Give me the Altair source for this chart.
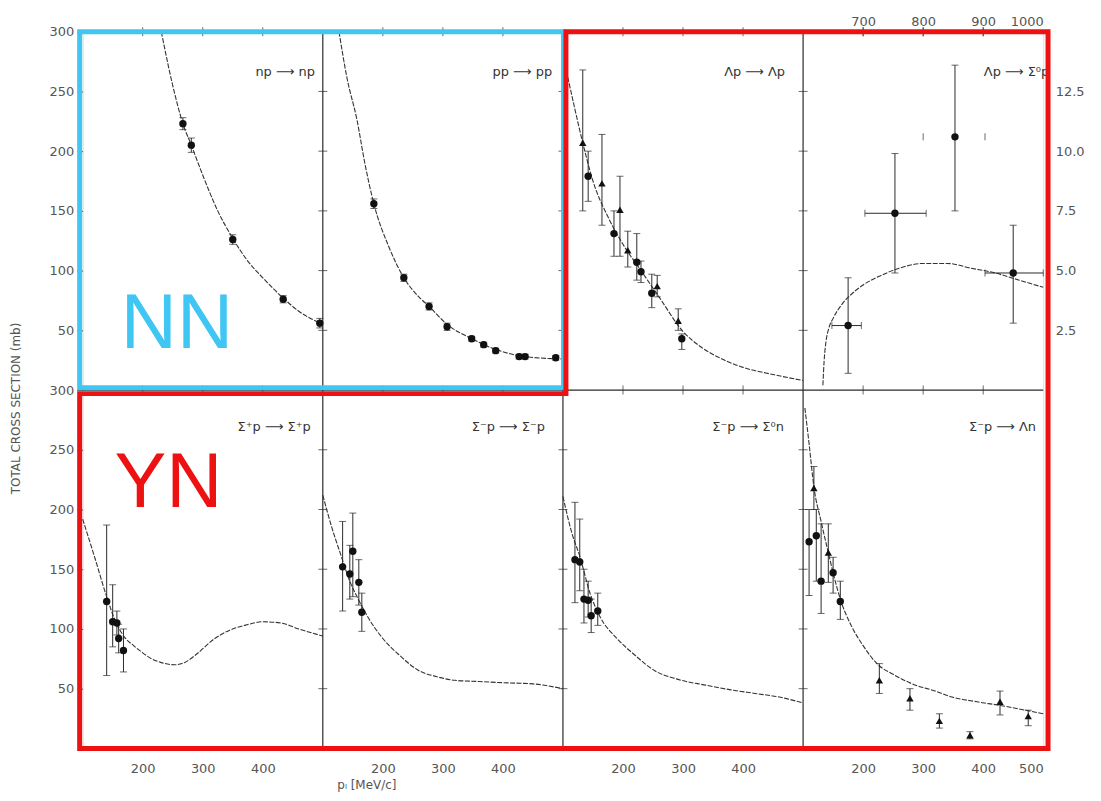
import altair as alt
import pandas as pd

# ---------------- data (p_lab in MeV/c, total cross section in mb) ----------------
# top row, panel 1: np -> np
NP_CURVE_X = [231, 250, 267, 281, 300, 325, 350, 375, 400, 434, 460, 500]
NP_CURVE_Y = [300, 255, 223, 205, 180, 150, 127, 108, 94, 77, 66, 55]
NP_X = [267, 281, 350, 434, 495]
NP_Y = [223, 205, 126, 76, 56]
NP_E = [5, 6, 4, 3, 4]

# top row, panel 2: pp -> pp
PP_CURVE_X = [127, 140, 157, 170, 185, 210, 235, 260, 277, 307, 348, 388, 437, 500]
PP_CURVE_Y = [300, 262, 226, 190, 156, 120, 94, 78, 70, 55, 43, 34, 28, 26]
PP_X = [185, 235, 277, 307, 348, 368, 388, 427, 437, 488]
PP_Y = [156, 94, 70, 53, 43, 38, 33, 28, 28, 27]
PP_E = [4, 3, 3, 3, 2, 2, 2, 2, 2, 2]

# top row, panel 3: Lambda p -> Lambda p
LL_CURVE_X = [108, 120, 133, 150, 175, 200, 230, 260, 300, 330, 365, 400, 450, 500]
LL_CURVE_Y = [262, 235, 207, 175, 145, 122, 100, 78, 49, 36, 26, 19, 13, 8]
LL_X = [133, 142, 165, 185, 195, 208, 223, 230, 248, 257, 292, 298]
LL_Y = [207, 179, 173, 131, 151, 117, 107, 99, 81, 87, 58, 43]
LL_LO = [150, 158, 138, 112, 112, 103, 92, 90, 69, 78, 50, 34]
LL_HI = [268, 200, 214, 150, 179, 133, 131, 108, 97, 96, 68, 47]
LL_SHAPE = ["triangle", "circle", "triangle", "circle", "triangle", "triangle",
            "circle", "circle", "circle", "triangle", "triangle", "circle"]

# top row, panel 4: Lambda p -> Sigma0 p (top axis 600-1000 MeV/c, right axis 0-15 mb)
LS_CURVE_X = [633, 635, 638, 643, 650, 665, 680, 700, 730, 760, 800, 840, 880, 920, 960, 1000]
LS_CURVE_Y = [0.2, 1.2, 2.0, 2.6, 3.0, 3.6, 4.0, 4.4, 4.8, 5.1, 5.3, 5.3, 5.1, 4.9, 4.6, 4.3]
LS_X = [675, 753, 853, 950]
LS_Y = [2.7, 7.4, 10.6, 4.9]
LS_YLO = [0.7, 4.9, 7.5, 2.8]
LS_YHI = [4.7, 9.9, 13.6, 6.9]
LS_XLO = [648, 703, 800, 903]
LS_XHI = [697, 805, 903, 1000]
LS_XBAR = [True, True, False, True]

# bottom row, panel 1: Sigma+ p -> Sigma+ p
SPP_CURVE_X = [100, 120, 140, 155, 170, 185, 200, 215, 230, 253, 270, 290, 320, 345, 370, 400, 430, 460, 500]
SPP_CURVE_Y = [192, 160, 127, 106, 93, 86, 80, 75, 72, 70, 72, 79, 92, 99, 103, 106, 105, 100, 94]
SPP_X = [140, 150, 157, 160, 168]
SPP_Y = [123, 106, 105, 92, 82]
SPP_LO = [61, 85, 95, 80, 64]
SPP_HI = [187, 137, 115, 104, 100]

# bottom row, panel 2: Sigma- p -> Sigma- p
SMM_CURVE_X = [100, 115, 130, 145, 160, 175, 200, 230, 257, 290, 320, 360, 400, 450, 500]
SMM_CURVE_Y = [212, 185, 162, 140, 124, 110, 92, 77, 66, 60, 57, 56, 55, 54, 50]
SMM_X = [133, 145, 150, 160, 165]
SMM_Y = [152, 146, 165, 139, 114]
SMM_LO = [115, 125, 127, 120, 98]
SMM_HI = [190, 170, 197, 158, 130]

# bottom row, panel 3: Sigma- p -> Sigma0 n
SMZ_CURVE_X = [100, 115, 128, 145, 162, 190, 220, 253, 290, 337, 380, 420, 460, 500]
SMZ_CURVE_Y = [211, 180, 161, 130, 110, 92, 78, 65, 58, 53, 49, 46, 43, 38]
SMZ_X = [120, 128, 135, 142, 147, 158]
SMZ_Y = [158, 156, 125, 124, 111, 115]
SMZ_LO = [122, 132, 105, 110, 97, 103]
SMZ_HI = [206, 192, 150, 140, 125, 130]

# bottom row, panel 4: Sigma- p -> Lambda n
SML_CURVE_X = [103, 110, 118, 130, 142, 152, 162, 180, 200, 225, 250, 282, 320, 348, 390, 428, 460, 500]
SML_CURVE_Y = [285, 255, 219, 190, 164, 143, 125, 103, 86, 70, 62, 54, 48, 43, 39, 36, 33, 29]
SML_X = [110, 118, 122, 130, 142, 150, 162, 227, 278, 327, 378, 428, 475]
SML_Y = [173, 218, 178, 140, 164, 147, 123, 57, 42, 23, 11, 39, 27]
SML_LO = [128, 200, 140, 113, 139, 130, 108, 46, 32, 17, 8, 28, 19]
SML_HI = [200, 236, 200, 188, 188, 160, 140, 71, 50, 29, 14, 48, 32]
SML_SHAPE = ["circle", "triangle", "circle", "circle", "triangle", "circle", "circle",
             "triangle", "triangle", "triangle", "triangle", "triangle", "triangle"]

REACTIONS = ["np  ⟶  np", "pp  ⟶  pp", "Λp  ⟶  Λp", "Λp ⟶ Σ⁰p",
             "Σ⁺p  ⟶  Σ⁺p", "Σ⁻p  ⟶  Σ⁻p", "Σ⁻p  ⟶  Σ⁰n", "Σ⁻p  ⟶  Λn"]
REACTION_X = [487, 482, 470, 510, 480, 470, 468, 488]
REACTION_Y = [266, 266, 266, 266, 269, 269, 269, 269]

Y_TICKS = [50, 100, 150, 200, 250, 300]
X_TICKS = [200, 300, 400]
TOP_TICKS = [700, 800, 900, 1000]
RIGHT_TICKS = [2.5, 5.0, 7.5, 10.0, 12.5]

CYAN = "#3FC6F2"
RED = "#EE1111"
INK = "#2a2a2a"
GREY = "#555555"


def gx(k, x):
    return k * 400 + (x - 100)


def gy(r, y):
    return (300 if r == 0 else 0) + y


# ---------------- assemble tables ----------------
curve_rows, pt_rows = [], []
std = [
    (0, 0, NP_CURVE_X, NP_CURVE_Y, NP_X, NP_Y, [y - e for y, e in zip(NP_Y, NP_E)], [y + e for y, e in zip(NP_Y, NP_E)], ["circle"] * len(NP_X)),
    (1, 0, PP_CURVE_X, PP_CURVE_Y, PP_X, PP_Y, [y - e for y, e in zip(PP_Y, PP_E)], [y + e for y, e in zip(PP_Y, PP_E)], ["circle"] * len(PP_X)),
    (2, 0, LL_CURVE_X, LL_CURVE_Y, LL_X, LL_Y, LL_LO, LL_HI, LL_SHAPE),
    (0, 1, SPP_CURVE_X, SPP_CURVE_Y, SPP_X, SPP_Y, SPP_LO, SPP_HI, ["circle"] * len(SPP_X)),
    (1, 1, SMM_CURVE_X, SMM_CURVE_Y, SMM_X, SMM_Y, SMM_LO, SMM_HI, ["circle"] * len(SMM_X)),
    (2, 1, SMZ_CURVE_X, SMZ_CURVE_Y, SMZ_X, SMZ_Y, SMZ_LO, SMZ_HI, ["circle"] * len(SMZ_X)),
    (3, 1, SML_CURVE_X, SML_CURVE_Y, SML_X, SML_Y, SML_LO, SML_HI, SML_SHAPE),
]
for k, r, cx, cy, px, py, lo, hi, sh in std:
    pid = f"{k}-{r}"
    for i, (a, b) in enumerate(zip(cx, cy)):
        curve_rows.append({"panel": pid, "i": i, "gx": gx(k, a), "gy": gy(r, b)})
    for a, b, l, h, s in zip(px, py, lo, hi, sh):
        pt_rows.append({"gx": gx(k, a), "gy": gy(r, b), "lo": gy(r, l), "hi": gy(r, h), "shape": s})

# Lambda p -> Sigma0 p panel (own axes)
for i, (a, b) in enumerate(zip(LS_CURVE_X, LS_CURVE_Y)):
    curve_rows.append({"panel": "3-0", "i": i, "gx": 1200 + (a - 600), "gy": 300 + b * 20})
xerr_rows = []
for a, b, l, h, xl, xh, bar in zip(LS_X, LS_Y, LS_YLO, LS_YHI, LS_XLO, LS_XHI, LS_XBAR):
    pt_rows.append({"gx": 1200 + (a - 600), "gy": 300 + b * 20, "lo": 300 + l * 20,
                    "hi": 300 + h * 20, "shape": "circle"})
    xerr_rows.append({"gy": 300 + b * 20, "xlo": 1200 + (xl - 600), "xhi": 1200 + (xh - 600),
                      "bar": bar})

curves = pd.DataFrame(curve_rows)
pts = pd.DataFrame(pt_rows)
xerr = pd.DataFrame(xerr_rows)
caps = pd.concat([pts[["gx", "lo"]].rename(columns={"lo": "gy"}),
                  pts[["gx", "hi"]].rename(columns={"hi": "gy"})])
xcaps = pd.concat([xerr[["gy", "xlo"]].rename(columns={"xlo": "gx"}),
                   xerr[["gy", "xhi"]].rename(columns={"xhi": "gx"})])

labels = pd.DataFrame({
    "text": REACTIONS,
    "gx": [gx(k % 4, x) for k, x in enumerate(REACTION_X)],
    "gy": [gy(k // 4, y) for k, y in enumerate(REACTION_Y)],
})

# frame
dividers = pd.DataFrame({"gx": [400, 800, 1200], "y0": [0, 0, 0], "y1": [600, 600, 600]})
midline = pd.DataFrame({"x0": [0], "x1": [1600], "gy": [300]})
hticks = pd.DataFrame([{"gx": d, "gy": r * 300 + v} for d in [400, 800, 1200]
                       for r in [0, 1] for v in Y_TICKS if v < 300])
vticks = pd.DataFrame([{"gx": gx(k, v), "gy": yy} for k in range(4) for v in X_TICKS
                       for yy in [300, 600]] +
                      [{"gx": 1200 + (v - 600), "gy": 600} for v in TOP_TICKS[:-1]])

# highlight boxes (in data units)
box_rows = []
for i, (a, b) in enumerate([(-5, 600), (801, 600), (801, 302), (-5, 302), (-5, 600)]):
    box_rows.append({"box": "NN", "i": i, "gx": a, "gy": b})
for i, (a, b) in enumerate([(805, 600), (1608, 600), (1608, 0), (-5, 0), (-5, 297),
                            (805, 297), (805, 600)]):
    box_rows.append({"box": "YN", "i": i, "gx": a, "gy": b})
boxes = pd.DataFrame(box_rows)
big = pd.DataFrame({"text": ["NN", "YN"], "gx": [157, 143], "gy": [335, 202], "box": ["NN", "YN"]})

XS = alt.Scale(domain=[0, 1600], nice=False, zero=False)
YS = alt.Scale(domain=[0, 600], nice=False, zero=False)


def X(field="gx", **kw):
    return alt.X(f"{field}:Q", scale=XS, axis=None, **kw)


def Y(field="gy", **kw):
    return alt.Y(f"{field}:Q", scale=YS, axis=None, **kw)


# axes layer (left + bottom)
axis_lb = alt.Chart(dividers).mark_rule(color=INK, strokeWidth=1.2).encode(
    x=alt.X("gx:Q", scale=XS, axis=alt.Axis(
        orient="bottom", values=[100, 200, 300, 500, 600, 700, 900, 1000, 1100, 1300, 1400, 1500, 1600],
        labelExpr="datum.value == 1600 ? '500' : toString(datum.value % 400 + 100)",
        ticks=False, domain=False, grid=False, labelPadding=14, labelFontSize=13,
        labelColor=GREY, labelFont="DejaVu Sans", title="pₗ [MeV/c]", titleFont="DejaVu Sans",
        titleFontSize=12, titleFontWeight="normal", titleColor=GREY, titleX=285, titleY=36,
        titleBaseline="middle")),
    y=alt.Y("y0:Q", scale=YS, axis=alt.Axis(
        orient="left", values=[50, 100, 150, 200, 250, 300, 350, 400, 450, 500, 550, 600],
        labelExpr="datum.value > 300 ? toString(datum.value - 300) : toString(datum.value)",
        tickSize=6, tickColor=GREY, domain=False, grid=False, labelPadding=3, labelFontSize=13,
        labelColor=GREY, labelFont="DejaVu Sans", title="TOTAL CROSS SECTION (mb)",
        titleFont="DejaVu Sans", titleFontSize=12, titleFontWeight="normal", titleColor=GREY,
        titleX=-60, titleY=378)),
    y2="y1:Q",
)

# axes layer (top + right) for the Lambda p -> Sigma0 p panel
axis_tr = alt.Chart(midline).mark_rule(color=INK, strokeWidth=1.2).encode(
    x=alt.X("x0:Q", scale=XS, axis=alt.Axis(
        orient="top", values=[1300, 1400, 1500, 1600], labelExpr="toString(datum.value - 600)",
        ticks=False, domain=False, grid=False, labelPadding=3, labelFontSize=13,
        labelColor=GREY, labelFont="DejaVu Sans", title=None)),
    x2="x1:Q",
    y=alt.Y("gy:Q", scale=YS, axis=alt.Axis(
        orient="right", values=[350, 400, 450, 500, 550],
        labelExpr="format((datum.value - 300) / 20, '.1f')",
        ticks=False, domain=False, grid=False, labelPadding=12, labelFontSize=13,
        labelColor=GREY, labelFont="DejaVu Sans", title=None)),
)

htick_l = alt.Chart(hticks).mark_tick(orient="horizontal", size=9, thickness=1, color=INK).encode(
    x=X(), y=Y())
vtick_l = alt.Chart(vticks).mark_tick(orient="vertical", size=9, thickness=1, color=INK).encode(
    x=X(), y=Y())

curve_l = alt.Chart(curves).mark_line(color="#333333", strokeWidth=1.1, strokeDash=[5, 1.5],
                                      interpolate="monotone").encode(
    x=X(), y=Y(), detail="panel:N", order="i:Q")

err_l = alt.Chart(pts).mark_rule(color=INK, strokeWidth=1).encode(x=X(), y=Y("lo"), y2="hi:Q")
cap_l = alt.Chart(caps).mark_tick(orient="horizontal", size=7, thickness=1, color=INK).encode(
    x=X(), y=Y())
xerr_l = alt.Chart(xerr[xerr["bar"]]).mark_rule(color=INK, strokeWidth=1).encode(
    x=X("xlo"), x2="xhi:Q", y=Y())
xcap_l = alt.Chart(xcaps).mark_tick(orient="vertical", size=7, thickness=1, color=INK).encode(
    x=X(), y=Y())

pt_l = alt.Chart(pts).mark_point(filled=True, opacity=1, color="#111111").encode(
    x=X(), y=Y(),
    shape=alt.Shape("shape:N", scale=alt.Scale(domain=["circle", "triangle"],
                                              range=["circle", "triangle-up"]), legend=None),
    size=alt.value(55),
)

label_l = alt.Chart(labels).mark_text(align="right", baseline="middle", font="DejaVu Sans",
                                      fontSize=13, color="#333333").encode(
    x=X(), y=Y(), text="text:N")

box_l = alt.Chart(boxes).mark_line(strokeWidth=5, strokeJoin="miter", strokeCap="square").encode(
    x=X(), y=Y(), detail="box:N", order="i:Q",
    color=alt.Color("box:N", scale=alt.Scale(domain=["NN", "YN"], range=[CYAN, RED]), legend=None))

big_l = alt.Chart(big).mark_text(align="center", baseline="alphabetic", font="Liberation Sans",
                                 fontSize=78).encode(
    x=X(), y=Y(), text="text:N",
    color=alt.Color("box:N", scale=alt.Scale(domain=["NN", "YN"], range=[CYAN, RED]), legend=None))

chart = alt.layer(
    axis_lb, axis_tr, htick_l, vtick_l, curve_l, err_l, cap_l, xerr_l, xcap_l, pt_l,
    label_l, box_l, big_l,
).resolve_axis(x="independent", y="independent").properties(
    width=965, height=720,
    autosize=alt.AutoSizeParams(type="none"),
    padding={"left": 75, "top": 22, "right": 50, "bottom": 45},
).configure_view(stroke=None).configure(background="white")

chart.save("out.html", embed_options={"renderer": "svg", "actions": False})
